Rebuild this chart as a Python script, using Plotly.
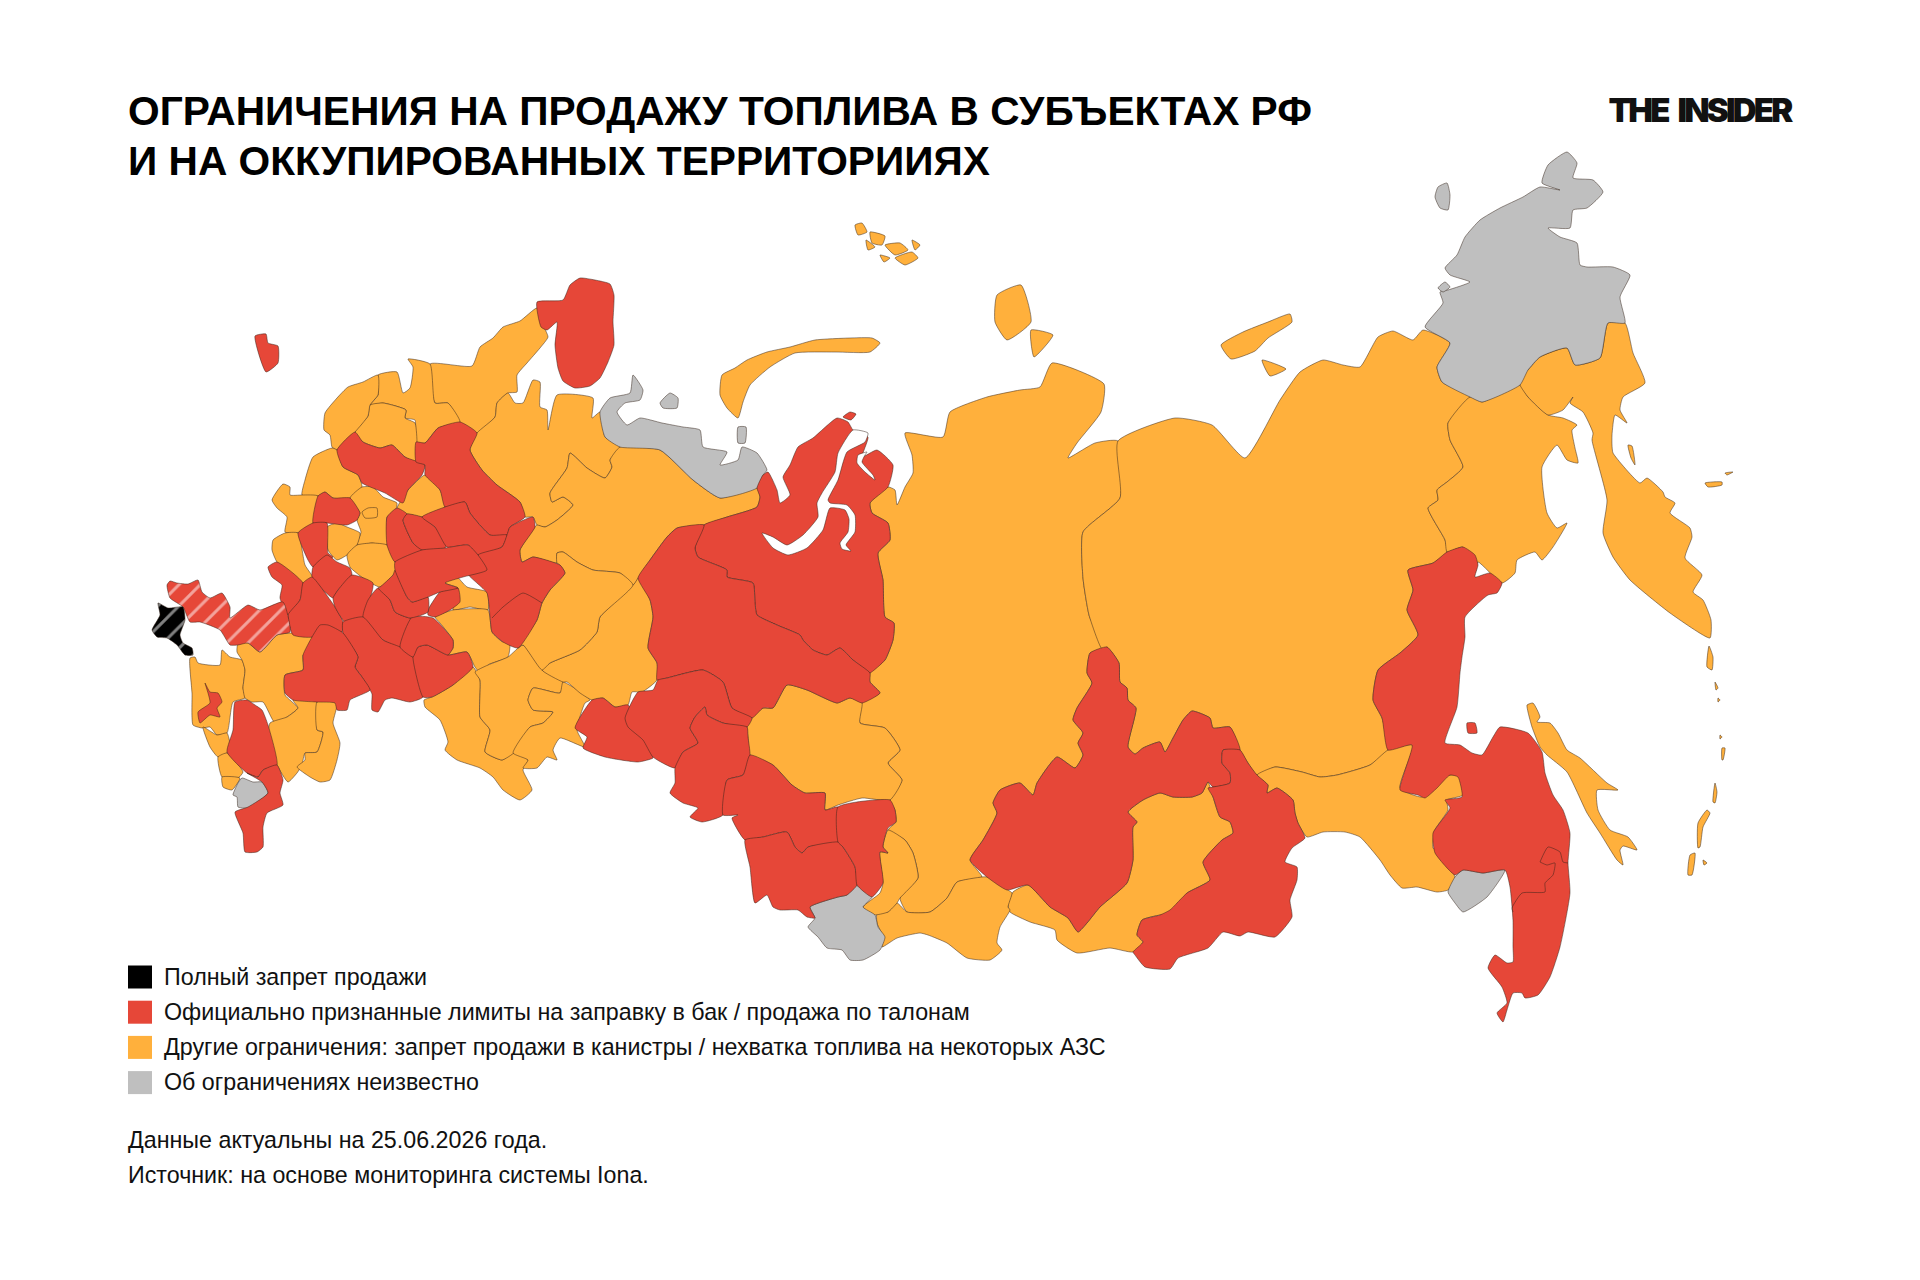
import plotly.graph_objects as go

BLACK = "#000000"
RED = "#E64738"
ORANGE = "#FFB03C"
GREY = "#BFBFBF"

title_lines = ["ОГРАНИЧЕНИЯ НА ПРОДАЖУ ТОПЛИВА В СУБЪЕКТАХ РФ", "И НА ОККУПИРОВАННЫХ ТЕРРИТОРИИЯХ"]
legend_labels = [
    "Полный запрет продажи",
    "Официально признанные лимиты на заправку в бак / продажа по талонам",
    "Другие ограничения: запрет продажи в канистры / нехватка топлива на некоторых АЗС",
    "Об ограничениях неизвестно",
]
legend_colors = [BLACK, RED, ORANGE, GREY]
note_lines = ["Данные актуальны на 25.06.2026 года.", "Источник: на основе мониторинга системы Iona."]

# region outlines (pixels of the 1920x1280 image)
karelia = [(537,308),(542,323),(548,337),(540,348),(527,363),(517,375),(517,392),(508,393),(497,403),(495,417),(477,433),(460,422),(448,403),(435,403),(430,364),(472,366),(480,347),(493,338),(503,327),(520,321)]
arkh_west = [(378,375),(397,372),(403,393),(410,388),(413,367),(408,359),(430,364),(435,403),(448,403),(460,422),(438,428),(425,443),(416,442),(415,420),(405,418),(406,410),(383,403),(370,405),(378,395)]
vologda = [(370,405),(383,403),(406,410),(405,418),(415,423),(416,462),(405,457),(392,445),(380,448),(363,442),(355,432),(368,416)]
leningrad = [(378,375),(378,395),(370,405),(368,416),(355,432),(337,450),(332,447),(330,435),(324,430),(325,413),(337,398),(348,387),(363,382)]
ivanovo = [(425,475),(440,490),(445,507),(422,517),(407,514),(398,517),(397,508),(408,490)]
novgorod = [(332,448),(337,450),(343,467),(358,475),(362,487),(350,498),(333,498),(325,492),(318,496),(302,495),(305,480),(313,457)]
pskov = [(283,484),(290,487),(290,495),(302,495),(318,496),(313,523),(297,533),(285,532),(287,517),(277,508),(272,500)]
moscow = [(350,498),(362,487),(373,487),(383,497),(397,503),(395,512),(387,517),(387,545),(372,543),(357,545),(361,532),(357,520),(360,513)]
moscow_city = [(362,512),(368,508),(377,508),(377,517),(365,518)]
smolensk = [(273,540),(285,533),(298,533),(305,565),(313,578),(303,583),(277,562),(272,550)]
kaluga = [(327,527),(337,523),(347,527),(360,533),(357,545),(347,555),(337,560),(328,550)]
ryazan = [(347,555),(357,545),(372,543),(387,545),(395,562),(397,570),(380,587),(363,578),(350,567)]
penza = [(445,583),(453,573),(467,587),(487,592),(488,610),(470,607),(453,610),(458,588)]
samara = [(435,617),(453,610),(488,610),(492,632),(503,642),(510,638),(508,657),(488,665),(483,677),(475,667),(467,652),(448,655),(453,648),(453,640),(440,623)]
saratov = [(424,700),(432,697),(453,685),(473,667),(480,680),(480,717),(490,730),(485,752),(502,760),(513,753),(528,760),(523,770),(532,790),(520,800),(503,790),(493,777),(480,768),(457,760),(445,750),(448,742),(440,720),(425,707)]
orenburg = [(475,672),(488,665),(508,657),(523,645),(542,670),(563,682),(560,693),(533,688),(528,700),(533,710),(553,712),(543,723),(530,727),(515,752),(502,760),(485,752),(490,730),(480,717),(480,680)]
bashkiria = [(563,682),(590,700),(585,703),(577,730),(585,747),(560,738),(553,750),(557,760),(547,757),(537,768),(523,768),(528,760),(513,753),(530,727),(543,723),(553,712),(533,710),(528,700),(533,688),(560,693)]
perm = [(633,585),(638,578),(650,600),(653,617),(648,648),(657,663),(657,680),(642,692),(632,692),(628,705),(615,707),(603,698),(592,700),(580,693),(567,682),(563,682),(542,670),(550,663),(580,650),(597,632),(600,617)]
komi_west = [(477,433),(495,417),(497,403),(508,393),(515,403),(523,403),(533,380),(540,382),(540,407),(547,410),(548,430),(557,395),(593,398),(592,418),(600,412),(605,437),(620,447),(610,460),(612,467),(605,478),(587,468),(570,453),(567,468),(550,493),(552,502),(563,497),(573,505),(557,520),(545,527),(537,525),(533,517),(525,517),(520,502),(497,485),(482,470),(470,450)]
komi_east = [(620,447),(660,450),(693,480),(720,498),(757,488),(760,497),(757,507),(727,517),(703,525),(677,528),(667,537),(650,560),(638,578),(633,585),(620,573),(593,570),(577,562),(563,552),(557,553),(557,563),(533,557),(522,562),(520,550),(535,527),(537,525),(545,527),(557,520),(573,505),(563,497),(552,502),(550,493),(567,468),(570,453),(587,468),(605,478),(612,467),(610,460)]
kirov = [(557,563),(557,553),(563,552),(577,562),(593,570),(620,573),(633,585),(600,617),(597,632),(580,650),(550,663),(542,670),(523,645),(518,648),(537,620),(542,603),(550,590),(565,573),(560,565)]
krasnodar = [(190,658),(195,657),(198,663),(220,665),(222,650),(230,657),(242,660),(245,670),(243,688),(245,698),(233,702),(227,733),(217,735),(210,727),(202,728),(193,725),(192,693)]
rostov = [(238,643),(248,643),(260,652),(277,635),(292,633),(312,637),(310,650),(303,655),(303,670),(285,675),(285,695),(298,708),(287,717),(275,723),(263,702),(252,702),(245,698),(243,688),(245,670),(242,660),(237,652)]
kalmykia = [(298,708),(293,700),(317,702),(317,730),(323,732),(317,752),(305,753),(302,765),(297,773),(288,782),(277,765),(268,742),(270,723),(287,717)]
astrakhan = [(317,702),(337,703),(333,723),(340,743),(337,760),(330,780),(320,782),(310,777),(297,767),(305,760),(305,753),(317,752),(323,732),(317,730)]
coast_a = [(203,727),(217,735),(227,733),(230,745),(227,753),(218,757),(210,747)]
coast_b = [(218,757),(227,753),(243,772),(238,778),(222,777)]
coast_c = [(222,777),(240,778),(232,790),(223,787)]
krasnoyarsk = [(905,433),(912,455),(913,473),(905,487),(897,505),(895,490),(888,487),(870,503),(872,513),(888,523),(890,540),(878,553),(883,580),(885,617),(894,623),(893,640),(885,660),(870,673),(870,682),(880,693),(862,703),(860,723),(885,728),(900,750),(888,763),(902,780),(890,800),(895,810),(896,822),(888,830),(905,840),(913,853),(918,878),(900,898),(907,912),(930,912),(947,898),(957,882),(982,877),(970,860),(983,840),(997,813),(993,803),(1000,790),(1020,783),(1033,795),(1037,783),(1057,757),(1075,768),(1083,755),(1078,743),(1083,733),(1073,720),(1077,708),(1092,683),(1087,673),(1090,653),(1102,649),(1089,615),(1083,578),(1083,532),(1120,498),(1118,441),(1095,443),(1068,458),(1077,443),(1101,412),(1104,384),(1052,363),(1040,387),(1020,390),(987,397),(950,412),(943,437)]
sakha = [(1118,441),(1175,418),(1212,425),(1245,458),(1280,400),(1300,372),(1323,360),(1343,365),(1360,367),(1378,337),(1393,331),(1413,340),(1423,330),(1450,343),(1437,367),(1442,382),(1470,397),(1448,423),(1450,440),(1463,467),(1447,482),(1437,490),(1438,500),(1428,508),(1445,540),(1447,552),(1433,563),(1408,570),(1413,590),(1407,610),(1418,635),(1400,653),(1378,670),(1373,700),(1382,718),(1388,750),(1370,765),(1337,775),(1320,777),(1302,772),(1275,767),(1257,775),(1248,763),(1240,750),(1230,727),(1213,728),(1210,718),(1192,711),(1183,720),(1173,738),(1165,752),(1160,742),(1143,748),(1135,754),(1128,747),(1136,708),(1128,700),(1127,688),(1120,682),(1119,663),(1107,647),(1102,649),(1089,615),(1083,578),(1083,532),(1120,498)]
magadan = [(1470,397),(1482,402),(1520,385),(1528,397),(1548,415),(1563,418),(1577,425),(1572,430),(1575,448),(1578,463),(1567,460),(1557,445),(1542,467),(1547,513),(1557,528),(1567,523),(1553,547),(1542,560),(1535,552),(1517,560),(1515,573),(1502,583),(1478,562),(1475,573),(1463,547),(1447,552),(1445,540),(1428,508),(1438,500),(1437,490),(1447,482),(1463,467),(1450,440),(1448,423)]
kamchatka = [(1520,385),(1520,377),(1528,370),(1540,357),(1567,348),(1575,365),(1600,358),(1608,323),(1625,323),(1633,353),(1645,383),(1623,397),(1620,410),(1627,423),(1615,415),(1612,435),(1612,445),(1613,453),(1640,483),(1647,478),(1663,492),(1665,497),(1675,503),(1670,513),(1690,528),(1692,537),(1685,558),(1702,575),(1693,592),(1703,600),(1711,620),(1710,638),(1670,613),(1630,580),(1613,557),(1603,533),(1607,500),(1592,440),(1593,433),(1583,412),(1570,403),(1573,397),(1563,410),(1548,415),(1528,397)]
amur = [(1257,775),(1275,767),(1302,772),(1320,777),(1337,775),(1370,765),(1388,750),(1413,745),(1400,788),(1422,797),(1442,777),(1458,775),(1463,795),(1447,800),(1448,810),(1435,830),(1433,848),(1445,857),(1455,878),(1448,890),(1437,892),(1417,887),(1402,888),(1390,875),(1380,860),(1360,837),(1345,832),(1323,832),(1307,837),(1298,823),(1295,813),(1293,800),(1277,788),(1267,793),(1268,785)]
buryatia = [(1128,812),(1143,800),(1160,793),(1173,797),(1192,797),(1202,793),(1208,782),(1213,797),(1220,817),(1230,822),(1233,833),(1222,840),(1203,862),(1210,880),(1187,893),(1170,915),(1160,915),(1142,920),(1137,935),(1143,942),(1133,952),(1110,948),(1077,953),(1057,940),(1055,930),(1030,922),(1010,912),(1008,905),(1013,892),(1028,885),(1050,907),(1068,918),(1078,932),(1087,923),(1100,907),(1127,883),(1133,860),(1133,827),(1137,822)]
tuva = [(877,913),(888,912),(897,903),(907,912),(930,912),(947,898),(957,882),(982,877),(987,877),(1008,890),(1012,893),(1008,907),(1010,910),(1000,927),(997,943),(1002,950),(990,960),(967,958),(947,943),(928,935),(920,933),(897,938),(882,947),(883,937),(877,923)]
kemerovo = [(888,830),(905,840),(913,853),(918,878),(900,898),(897,903),(888,912),(873,915),(863,907),(880,893),(883,883),(880,852),(888,853),(883,847)]
tomsk = [(752,718),(763,708),(773,708),(787,685),(807,690),(837,703),(850,698),(862,703),(860,723),(885,728),(900,750),(888,763),(902,780),(890,800),(862,798),(838,805),(825,810),(825,793),(805,793),(792,785),(773,765),(750,755),(748,737),(747,727)]
sakhalin = [(1527,705),(1533,703),(1540,717),(1537,722),(1550,723),(1558,733),(1567,750),(1580,758),(1607,783),(1618,790),(1597,790),(1598,810),(1610,830),(1628,837),(1637,850),(1623,846),(1620,850),(1623,865),(1617,860),(1600,833),(1587,813),(1567,772),(1547,755),(1540,747),(1532,727),(1528,712)]
novaya_zemlya = [(720,395),(722,375),(735,368),(747,360),(767,352),(790,347),(815,340),(850,338),(872,338),(880,343),(870,352),(835,352),(795,353),(770,367),(750,385),(743,402),(738,418),(727,408)]
franz_a = [(855,225),(862,223),(867,232),(858,235)]
franz_b = [(870,232),(885,236),(882,245),(872,243)]
franz_c = [(885,245),(900,243),(908,250),(895,255)]
franz_d = [(895,258),(912,252),(918,258),(905,265)]
franz_e = [(866,240),(875,247),(868,250)]
franz_f = [(912,240),(920,245),(915,250)]
franz_g = [(880,255),(890,258),(884,262)]
severnaya_a = [(997,295),(1021,285),(1031,322),(1007,340),(995,322)]
severnaya_b = [(1031,330),(1053,335),(1034,357)]
siberian_a = [(1221,345),(1243,332),(1268,322),(1290,314),(1292,322),(1268,338),(1255,351),(1231,359)]
siberian_b = [(1262,360),(1286,369),(1270,376)]
kuril_a = [(1715,783),(1717,792),(1715,803),(1713,802)]
kuril_b = [(1707,810),(1710,813),(1703,827),(1700,847),(1698,848),(1698,823)]
kuril_c = [(1690,855),(1695,853),(1692,875),(1688,875)]
kuril_d = [(1703,860),(1707,863),(1704,865)]
kuril_e = [(1722,748),(1725,748),(1723,760),(1722,760)]
kuril_f = [(1709,646),(1713,657),(1712,670),(1707,667)]
kuril_g = [(1715,682),(1718,688),(1716,690)]
kuril_h = [(1718,698),(1720,700),(1718,702)]
kuril_i = [(1720,735),(1722,737),(1720,739)]
commander_a = [(1705,483),(1722,482),(1722,485),(1708,487)]
commander_b = [(1725,473),(1733,472),(1727,475)]
karaginsky = [(1628,445),(1632,446),(1635,465),(1631,458)]

kaliningrad = [(255,336),(266,334),(268,343),(278,346),(278,363),(266,372)]
murmansk = [(537,302),(563,300),(570,285),(580,278),(595,280),(610,284),(614,295),(613,322),(614,345),(608,362),(600,378),(590,386),(575,388),(563,381),(558,368),(555,345),(557,322),(547,330),(541,327)]
tver = [(355,432),(363,442),(380,448),(392,445),(405,457),(425,465),(422,475),(408,490),(403,503),(385,493),(362,483),(358,475),(343,467),(337,450)]
kostroma = [(416,442),(425,443),(438,428),(460,422),(477,433),(470,450),(482,470),(497,485),(520,502),(525,517),(510,527),(507,535),(490,535),(470,513),(465,502),(445,507),(440,490),(425,475),(425,465),(416,462)]
tula = [(318,496),(325,492),(333,498),(350,498),(360,513),(357,520),(347,525),(327,523),(313,523)]
orel = [(397,508),(407,514),(403,520),(413,543),(422,550),(395,562),(387,545),(387,517)]
lipetsk = [(407,514),(422,517),(435,527),(447,543),(445,548),(422,550),(413,543),(403,520)]
tambov = [(422,517),(445,507),(465,502),(470,513),(490,535),(507,535),(502,547),(478,555),(468,545),(447,547),(435,527)]
tatarstan = [(507,535),(510,527),(533,517),(535,527),(520,550),(522,562),(533,557),(560,565),(565,573),(550,590),(542,603),(537,620),(518,648),(503,642),(492,632),(490,617),(487,593),(467,573),(485,570),(478,555),(502,547)]
kursk = [(268,567),(277,562),(303,583),(300,600),(288,615),(280,598),(282,585),(272,577)]
belgorod = [(298,533),(313,523),(327,523),(328,553),(333,557),(313,567),(308,560)]
bryansk = [(313,567),(327,555),(337,562),(350,568),(352,575),(338,590),(333,598),(323,590),(312,577)]
voronezh = [(312,577),(323,590),(335,607),(343,622),(342,632),(320,627),(312,637),(293,635),(288,615),(300,600),(303,583)]
mordovia = [(352,575),(373,583),(363,617),(345,622),(335,607),(333,598),(338,590)]
chuvashia = [(378,588),(390,600),(395,612),(410,618),(412,617),(400,647),(383,640),(363,617),(368,600)]
ulyanovsk = [(343,622),(363,617),(383,640),(400,647),(413,657),(423,697),(410,702),(392,698),(385,700),(378,712),(372,710),(372,694),(370,690),(362,677),(355,667),(358,657),(343,633)]
volgograd_e = [(413,657),(418,647),(427,645),(448,655),(467,652),(473,667),(453,685),(432,697),(423,697)]
nizhny = [(400,647),(412,617),(433,618),(453,640),(453,648),(448,655),(427,645),(418,647),(413,657)]
mari = [(428,610),(440,592),(458,588),(460,602),(450,610),(435,617),(428,615)]
vladimir = [(395,570),(407,597),(412,602),(428,597),(428,612),(410,618),(395,612),(390,600),(378,588),(380,587),(393,575)]
yaroslavl = [(395,562),(422,550),(445,548),(468,545),(478,555),(487,570),(463,577),(445,583),(458,588),(440,592),(428,597),(412,602),(407,597),(395,570)]
volgograd = [(285,675),(303,670),(303,655),(312,637),(320,625),(328,625),(343,633),(358,657),(355,667),(362,677),(370,690),(350,700),(347,710),(337,710),(335,703),(317,702),(293,700),(285,693)]
stavropol = [(235,702),(247,700),(255,705),(262,710),(268,725),(277,765),(263,770),(258,777),(247,773),(227,752),(233,730)]
adygea = [(205,683),(210,692),(218,693),(222,702),(217,708),(220,717),(210,715),(200,723),(198,712),(210,703),(208,693)]
dagestan = [(247,773),(258,777),(263,770),(277,765),(283,780),(280,793),(283,805),(267,813),(263,827),(263,847),(257,852),(245,852),(243,833),(235,812),(248,807),(268,793),(262,782)]
udmurtia = [(575,728),(592,700),(603,698),(615,707),(628,705),(652,755),(653,758),(638,762),(605,757),(583,748),(587,737)]
yamal = [(757,488),(763,475),(768,472),(777,490),(780,503),(790,495),(783,477),(790,465),(798,447),(813,438),(837,418),(848,422),(853,430),(868,437),(862,457),(877,450),(893,465),(888,487),(870,503),(872,513),(888,523),(890,540),(878,553),(883,580),(885,617),(894,623),(893,640),(885,660),(870,673),(868,672),(853,660),(840,648),(827,655),(813,650),(803,640),(800,635),(777,625),(757,615),(755,603),(753,583),(727,577),(727,570),(698,557),(695,548),(704,525),(727,517),(757,507),(760,497)]
khanty = [(704,525),(677,528),(667,537),(650,560),(638,578),(650,600),(653,617),(648,648),(657,663),(657,680),(667,678),(703,670),(723,682),(732,708),(752,718),(763,708),(773,708),(787,685),(807,690),(837,703),(850,698),(862,703),(880,693),(870,682),(870,673),(853,660),(840,648),(827,655),(813,650),(803,640),(800,635),(777,625),(757,615),(755,603),(753,583),(727,577),(727,570),(698,557),(695,548)]
sverdlovsk = [(625,718),(638,692),(653,690),(658,680),(667,678),(703,670),(723,682),(732,708),(752,718),(747,727),(723,723),(707,715),(705,707),(695,717),(690,728),(698,743),(683,752),(675,768),(653,757),(643,740),(628,727)]
chelyabinsk = [(675,768),(683,752),(698,743),(690,728),(695,717),(705,707),(707,715),(723,723),(747,727),(748,737),(750,755),(743,775),(727,780),(723,815),(702,822),(690,817),(698,808),(683,803),(670,793),(675,783)]
kurgan = [(723,815),(727,780),(743,775),(750,755),(773,765),(792,785),(805,793),(825,793),(825,810),(838,807),(838,842),(808,847),(802,853),(795,847),(787,832),(763,837),(745,840),(732,818),(738,815)]
omsk = [(745,840),(763,837),(787,832),(795,847),(802,853),(808,847),(838,842),(843,847),(855,867),(857,885),(847,895),(838,897),(810,907),(815,918),(807,917),(798,910),(780,910),(773,907),(767,895),(755,903),(750,867)]
novosibirsk = [(896,822),(888,828),(883,847),(888,853),(880,852),(883,883),(872,897),(857,885),(855,867),(843,847),(838,842),(838,807),(890,800),(895,810)]
irkutsk = [(1090,653),(1107,647),(1119,663),(1120,682),(1127,688),(1128,700),(1136,708),(1128,747),(1135,754),(1143,748),(1160,742),(1165,752),(1173,738),(1183,720),(1192,711),(1210,718),(1213,728),(1230,727),(1240,750),(1223,750),(1222,763),(1230,773),(1230,783),(1213,787),(1208,782),(1202,793),(1192,797),(1173,797),(1160,793),(1143,800),(1128,812),(1137,822),(1133,827),(1133,860),(1127,883),(1100,907),(1087,923),(1078,932),(1068,918),(1050,907),(1028,885),(1007,890),(987,877),(970,860),(983,840),(997,813),(993,803),(1000,790),(1020,783),(1033,795),(1037,783),(1057,757),(1075,768),(1083,755),(1078,743),(1083,733),(1073,720),(1077,708),(1092,683),(1087,673)]
zabaikal = [(1222,763),(1223,750),(1240,750),(1248,763),(1257,775),(1268,785),(1267,793),(1277,788),(1293,800),(1295,813),(1298,823),(1305,838),(1292,848),(1285,862),(1297,867),(1297,880),(1290,900),(1292,917),(1275,937),(1248,932),(1240,936),(1223,932),(1208,948),(1178,958),(1170,969),(1145,967),(1135,955),(1133,952),(1143,942),(1137,935),(1142,920),(1160,915),(1170,910),(1187,893),(1210,880),(1203,862),(1222,840),(1233,833),(1230,822),(1220,817),(1213,797),(1208,788),(1213,787),(1230,783),(1230,773)]
khabarovsk = [(1408,570),(1433,563),(1447,552),(1463,547),(1475,555),(1478,565),(1475,577),(1490,573),(1502,583),(1497,593),(1488,595),(1465,617),(1465,637),(1462,657),(1460,673),(1457,707),(1445,743),(1460,745),(1472,753),(1482,755),(1493,737),(1500,727),(1528,733),(1542,752),(1545,773),(1553,795),(1563,810),(1570,833),(1568,863),(1570,893),(1560,947),(1550,977),(1538,995),(1525,998),(1522,993),(1513,993),(1507,1010),(1503,1022),(1497,1013),(1507,1003),(1502,987),(1488,968),(1495,955),(1507,963),(1513,962),(1513,947),(1513,920),(1510,887),(1505,870),(1483,873),(1463,870),(1455,875),(1435,853),(1433,833),(1450,808),(1445,800),(1462,797),(1458,777),(1450,775),(1437,788),(1425,798),(1418,795),(1400,790),(1412,745),(1388,750),(1382,718),(1373,700),(1378,670),(1400,653),(1418,635),(1407,610),(1413,590)]
shantar = [(1467,723),(1475,723),(1477,733),(1468,733)]
yamal_islet = [(843,417),(850,412),(856,414),(851,420)]

nenets = [(600,412),(610,398),(630,393),(633,375),(643,390),(640,400),(625,403),(617,412),(627,425),(640,418),(662,423),(683,427),(700,430),(703,447),(727,452),(720,465),(738,460),(742,447),(757,453),(767,470),(763,475),(757,488),(720,498),(693,480),(660,450),(620,447),(605,437)]
kolguev = [(660,403),(670,393),(678,398),(677,408),(663,408)]
vaygach = [(738,427),(746,427),(745,443),(738,443)]
chukotka = [(1425,327),(1443,303),(1440,292),(1448,290),(1470,282),(1450,275),(1445,268),(1457,255),(1465,237),(1480,220),(1500,208),(1523,197),(1540,187),(1560,190),(1542,183),(1548,165),(1567,152),(1577,163),(1573,178),(1593,180),(1603,192),(1587,208),(1573,210),(1570,228),(1548,228),(1560,237),(1577,243),(1580,265),(1587,267),(1613,267),(1630,275),(1620,297),(1625,323),(1608,323),(1600,358),(1575,365),(1567,348),(1540,357),(1528,370),(1520,385),(1482,402),(1470,397),(1442,382),(1437,367),(1450,343)]
wrangel = [(1435,197),(1438,187),(1447,183),(1450,195),(1448,210),(1440,208)]
ayon = [(1438,288),(1445,282),(1450,287),(1443,292)]
georgia_part = [(242,778),(253,782),(262,782),(268,793),(248,808),(238,807),(237,797),(233,795),(238,783)]
altai_part = [(810,907),(838,897),(847,895),(855,885),(872,897),(863,907),(875,915),(878,927),(885,937),(880,950),(863,960),(850,960),(842,950),(827,948),(818,937),(808,927),(815,918)]
amur_part = [(1448,892),(1455,877),(1463,870),(1483,873),(1505,870),(1487,897),(1463,912),(1455,903)]

ob_gulf = [(853,430),(838,453),(835,472),(822,493),(817,503),(818,517),(803,535),(787,545),(773,537),(762,533),(773,548),(788,555),(807,548),(823,530),(830,508),(845,510),(849,519),(848,532),(840,543),(842,549),(851,551),(846,545),(855,532),(855,515),(847,505),(830,503),(828,500),(838,480),(847,452),(865,442),(868,433)]
taz_inlet = [(857,463),(858,455),(867,452),(865,455),(862,462),(873,475),(875,480),(865,472)]

occupied_hatched = [(167,585),(170,581),(177,583),(188,584),(198,580),(202,592),(210,598),(222,593),(230,607),(230,618),(248,605),(260,610),(283,602),(290,632),(277,635),(260,652),(248,643),(238,645),(230,645),(220,630),(200,622),(190,622),(183,607),(170,598)]
crimea_black = [(158,603),(168,608),(183,607),(185,620),(180,635),(183,643),(192,648),(193,655),(185,655),(177,645),(167,638),(157,637),(152,630),(160,615)]

# inner borders that are not the edge of a drawn region
primorye_line = [(1540,862),(1548,847),(1560,852),(1563,862),(1568,863)]
primorye_line2 = [(1540,862),(1547,865),(1555,863),(1553,875),(1545,883),(1545,892),(1522,893),(1512,908),(1513,912)]
tatar_line = [(492,618),(503,607),(523,593),(542,603)]

orange_regions = [karelia, arkh_west, vologda, leningrad, ivanovo, novgorod, pskov, moscow, moscow_city, smolensk, kaluga, ryazan,
    penza, samara, saratov, orenburg, bashkiria, perm, komi_west, komi_east, kirov, krasnodar, rostov, kalmykia, astrakhan,
    coast_a, coast_b, coast_c, krasnoyarsk, sakha, magadan, kamchatka, amur, buryatia, tuva, kemerovo, tomsk, sakhalin,
    novaya_zemlya, franz_a, franz_b, franz_c, franz_d, franz_e, franz_f, franz_g, severnaya_a, severnaya_b, siberian_a, siberian_b,
    kuril_a, kuril_b, kuril_c, kuril_d, kuril_e, kuril_f, kuril_g, kuril_h, kuril_i, commander_a, commander_b, karaginsky]
grey_regions = [nenets, kolguev, vaygach, chukotka, wrangel, ayon, georgia_part, altai_part, amur_part]
red_regions = [kaliningrad, murmansk, tver, kostroma, tula, orel, lipetsk, tambov, tatarstan, kursk, belgorod, bryansk, voronezh,
    mordovia, chuvashia, ulyanovsk, volgograd_e, nizhny, mari, vladimir, yaroslavl, volgograd, stavropol, adygea, dagestan,
    udmurtia, yamal, khanty, sverdlovsk, chelyabinsk, kurgan, omsk, novosibirsk, irkutsk, zabaikal, khabarovsk, shantar, yamal_islet]
white_regions = [ob_gulf, taz_inlet]
inner_lines = [primorye_line, primorye_line2, tatar_line]

BORDER = dict(color="rgba(50,35,25,0.7)", width=0.7, shape="spline", smoothing=0.5)

def region_trace(points, color, pattern=None):
    xs = [p[0] for p in points] + [points[0][0]]
    ys = [p[1] for p in points] + [points[0][1]]
    return go.Scatter(x=xs, y=ys, mode="lines", fill="toself", fillcolor=color, line=BORDER,
                      fillpattern=pattern, hoverinfo="skip", showlegend=False)

fig = go.Figure()
for region in orange_regions:
    fig.add_trace(region_trace(region, ORANGE))
for region in grey_regions:
    fig.add_trace(region_trace(region, GREY))
for region in red_regions:
    fig.add_trace(region_trace(region, RED))
for region in white_regions:
    fig.add_trace(region_trace(region, "#FFFFFF"))
fig.add_trace(region_trace(occupied_hatched, RED, dict(shape="/", bgcolor=RED, fgcolor="#FFFFFF", size=15, solidity=0.2)))
fig.add_trace(region_trace(crimea_black, BLACK, dict(shape="/", bgcolor=BLACK, fgcolor="#FFFFFF", size=15, solidity=0.2)))
for line in inner_lines:
    fig.add_trace(go.Scatter(x=[p[0] for p in line], y=[p[1] for p in line], mode="lines", line=BORDER,
                             hoverinfo="skip", showlegend=False))

for i, text in enumerate(title_lines):
    fig.add_annotation(x=125.5, y=111 + i * 50, text=text, showarrow=False, xanchor="left", yanchor="middle",
                       font=dict(family="Liberation Sans", size=40.7, color="#000000", weight="bold"))

fig.add_annotation(x=1699, y=110, text="THE INSIDER", showarrow=False, xanchor="center", yanchor="middle",
                   font=dict(family="Inter", size=33, color="#111111", weight=900))

for i, text in enumerate(legend_labels):
    cy = 977 + i * 35.2
    fig.add_shape(type="rect", x0=128, x1=152, y0=cy - 11.5, y1=cy + 11.5, fillcolor=legend_colors[i], line=dict(width=0))
    fig.add_annotation(x=161.5, y=cy - 0.5, text=text, showarrow=False, xanchor="left", yanchor="middle",
                       font=dict(family="Liberation Sans", size=23.25, color="#111111"))

for i, text in enumerate(note_lines):
    fig.add_annotation(x=125.5, y=1140 + i * 35.2, text=text, showarrow=False, xanchor="left", yanchor="middle",
                       font=dict(family="Liberation Sans", size=23.25, color="#111111"))

fig.update_xaxes(range=[0, 1920], visible=False)
fig.update_yaxes(range=[1280, 0], visible=False)
fig.update_layout(width=1920, height=1280, margin=dict(l=0, r=0, t=0, b=0), paper_bgcolor="#FFFFFF", plot_bgcolor="#FFFFFF")

# logo letters sit tight together in the original
tighten_logo = """
document.body.style.margin='0';
document.querySelectorAll('.annotation-text').forEach(function (t) {
    if (t.textContent === 'THE INSIDER') { t.style.letterSpacing = '-2.8px'; t.style.wordSpacing = '6px'; }
});
"""
fig.write_html("out.html", config=dict(displayModeBar=False), post_script=tighten_logo)
